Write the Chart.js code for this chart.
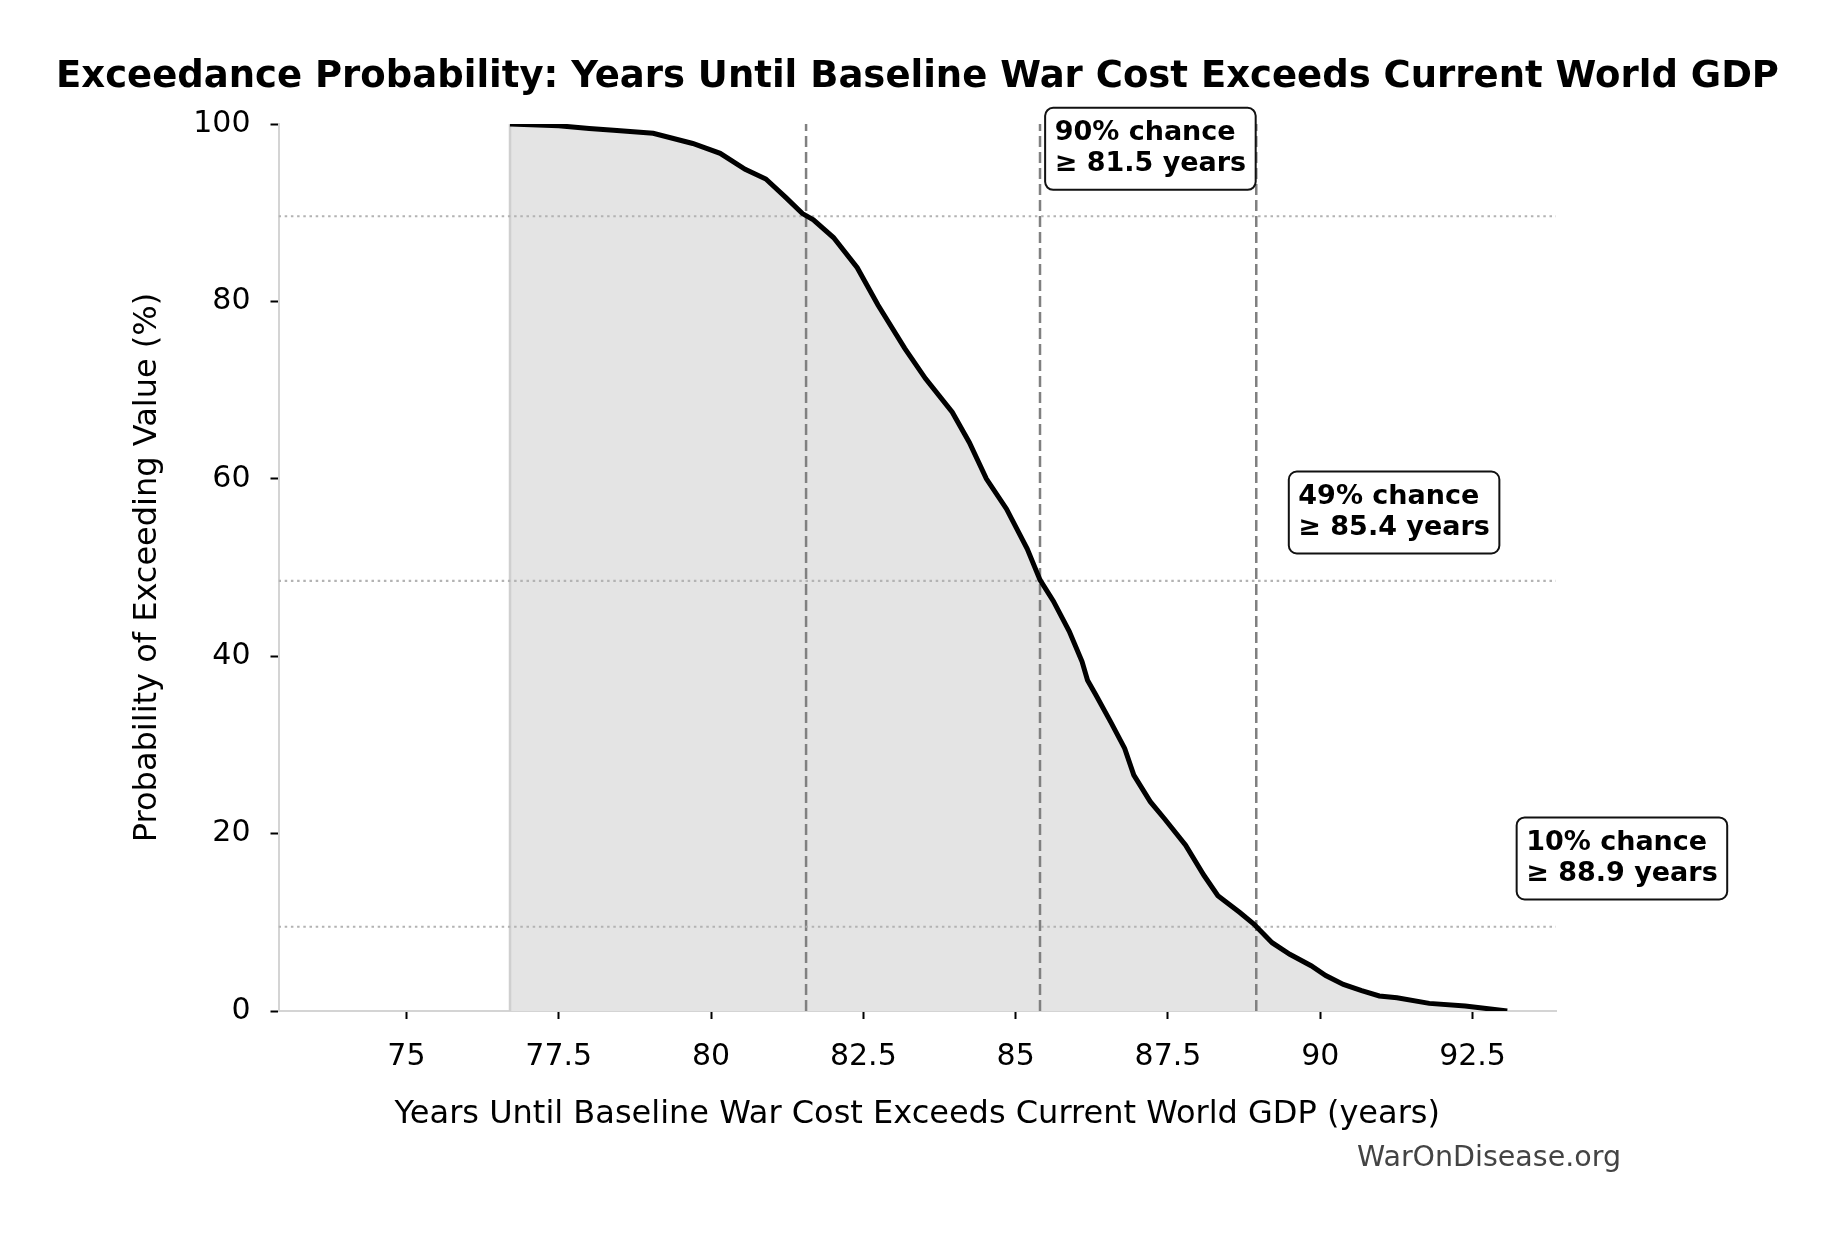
<!DOCTYPE html>
<html>
<head>
<meta charset="utf-8">
<script src="https://cdn.jsdelivr.net/npm/chart.js@4.4.1/dist/chart.umd.min.js"></script>
<style>
  html, body { margin: 0; padding: 0; background: #fff; }
  #wrap { width: 1835px; height: 1233px; }
</style>
</head>
<body>
<div id="wrap"><canvas id="chart"></canvas></div>
<script>
// exceedance curve
const years = [76.7, 77.5, 78.0, 78.4, 79.05, 79.7, 80.15, 80.56, 80.9, 81.23, 81.5, 81.68, 82.01, 82.4, 82.74,
  83.18, 83.52, 83.96, 84.24, 84.52, 84.85, 85.19, 85.4, 85.62, 85.88, 86.09, 86.18, 86.32, 86.56, 86.79,
  86.94, 87.21, 87.44, 87.79, 88.09, 88.32, 88.68, 88.91, 89.21, 89.5, 89.85, 90.09, 90.38, 90.68, 90.97,
  91.26, 91.79, 92.38, 93.07];
const exceedPct = [100, 99.8, 99.5, 99.3, 98.95, 97.8, 96.7, 94.9, 93.8, 91.7, 89.9, 89.2, 87.2, 83.8, 79.6,
  74.7, 71.3, 67.5, 64.1, 60.0, 56.6, 52.1, 48.6, 46.2, 42.8, 39.4, 37.3, 35.6, 32.6, 29.6,
  26.6, 23.6, 21.7, 18.7, 15.3, 13.0, 11.1, 9.8, 7.7, 6.4, 5.1, 4.0, 3.0, 2.3, 1.7,
  1.5, 0.86, 0.56, 0.0];

const markerYears = [81.56, 85.4, 88.95];
const markerPct = [89.6, 48.5, 9.5];
const markerText = [
  ['90% chance', '\u2265 81.5 years'],
  ['49% chance', '\u2265 85.4 years'],
  ['10% chance', '\u2265 88.9 years']
];
// where the label boxes sit (text left, box centre) in data units
const boxX = [85.64, 89.64, 93.38];
const boxY = [97.2, 56.2, 17.2];

const xTicks = [75, 77.5, 80, 82.5, 85, 87.5, 90, 92.5];
const yTicks = [0, 20, 40, 60, 80, 100];
const xRange = [72.9, 93.87];

const FONT = '"DejaVu Sans", sans-serif';
Chart.defaults.font.family = FONT;
Chart.defaults.color = '#000';

const boxes = {
  id: 'boxes',
  afterDraw(chart) {
    const {ctx, scales: {x, y}} = chart;
    ctx.save();
    ctx.font = 'bold 27px ' + FONT;
    markerText.forEach((lines, i) => {
      const tx = x.getPixelForValue(boxX[i]);
      const cy = y.getPixelForValue(boxY[i]);
      const w = Math.max(...lines.map(l => ctx.measureText(l).width));
      ctx.beginPath();
      ctx.roundRect(tx - 9.5, cy - 41, w + 19, 82, 8);
      ctx.fillStyle = '#fff';
      ctx.fill();
      ctx.lineWidth = 2;
      ctx.strokeStyle = '#111';
      ctx.stroke();
      ctx.fillStyle = '#000';
      ctx.textAlign = 'left';
      ctx.textBaseline = 'alphabetic';
      ctx.fillText(lines[0], tx, cy - 8.5);
      ctx.fillText(lines[1], tx, cy + 22.5);
    });
    // watermark
    ctx.font = '28.5px ' + FONT;
    ctx.fillStyle = '#444';
    ctx.textAlign = 'right';
    ctx.textBaseline = 'middle';
    ctx.fillText('WarOnDisease.org', 1621, 1159);
    ctx.restore();
  }
};

new Chart(document.getElementById('chart'), {
  type: 'line',
  data: {
    datasets: [
      {
        data: years.map((v, i) => ({x: v, y: exceedPct[i]})),
        borderColor: '#000',
        borderWidth: 5,
        backgroundColor: '#e4e4e4',
        fill: 'origin',
        pointRadius: 0,
        tension: 0,
        order: 0
      },
      {
        data: [{x: years[0], y: 0}, {x: years[0], y: exceedPct[0]}],
        borderColor: '#cfcfcf',
        borderWidth: 2.5,
        pointRadius: 0,
        fill: false,
        order: 3
      },
      ...markerYears.map(v => ({
        data: [{x: v, y: 0}, {x: v, y: 100}],
        borderColor: '#808080',
        borderWidth: 2.5,
        borderDash: [11, 5],
        pointRadius: 0,
        fill: false,
        order: 2
      })),
      ...markerPct.map(p => ({
        data: [{x: xRange[0], y: p}, {x: xRange[1], y: p}],
        borderColor: '#b3b3b3',
        borderWidth: 2.2,
        borderDash: [2.5, 3.7],
        pointRadius: 0,
        fill: false,
        order: 1
      }))
    ]
  },
  options: {
    responsive: true,
    maintainAspectRatio: false,
    animation: false,
    layout: {padding: 0},
    plugins: {
      legend: {display: false},
      tooltip: {enabled: false},
      filler: {drawTime: 'beforeDatasetsDraw'},
      title: {
        display: true,
        text: 'Exceedance Probability: Years Until Baseline War Cost Exceeds Current World GDP',
        font: {size: 37, weight: 'bold'},
        color: '#000',
        padding: {top: 55.3, bottom: 24.3}
      }
    },
    scales: {
      x: {
        type: 'linear',
        min: xRange[0],
        max: xRange[1],
        afterBuildTicks: s => { s.ticks = xTicks.map(v => ({value: v})); },
        afterFit: s => { s.height = 222; },
        ticks: {callback: v => String(v), font: {size: 30}, color: '#000', padding: 20, maxRotation: 0, autoSkip: false},
        grid: {drawOnChartArea: false, drawTicks: true, tickLength: 8, tickColor: '#000', tickWidth: 2},
        border: {color: '#d4d4d4', width: 2},
        title: {
          display: true,
          text: 'Years Until Baseline War Cost Exceeds Current World GDP (years)',
          font: {size: 32},
          color: '#000',
          padding: {top: 0, bottom: 99}
        }
      },
      y: {
        type: 'linear',
        min: 0,
        max: 100,
        afterBuildTicks: s => { s.ticks = yTicks.map(v => ({value: v})); },
        afterFit: s => { s.width = 278.5; },
        ticks: {font: {size: 30}, color: '#000', padding: 20},
        grid: {drawOnChartArea: false, drawTicks: true, tickLength: 8, tickColor: '#000', tickWidth: 2},
        border: {color: '#d4d4d4', width: 2},
        title: {
          display: true,
          text: 'Probability of Exceeding Value (%)',
          font: {size: 32},
          color: '#000',
          padding: {top: 128.3, bottom: 0}
        }
      },
      y2: {
        type: 'linear',
        position: 'right',
        afterFit: s => { s.width = 279; },
        ticks: {display: false},
        grid: {display: false},
        border: {display: false}
      }
    }
  },
  plugins: [boxes]
});
</script>
</body>
</html>
